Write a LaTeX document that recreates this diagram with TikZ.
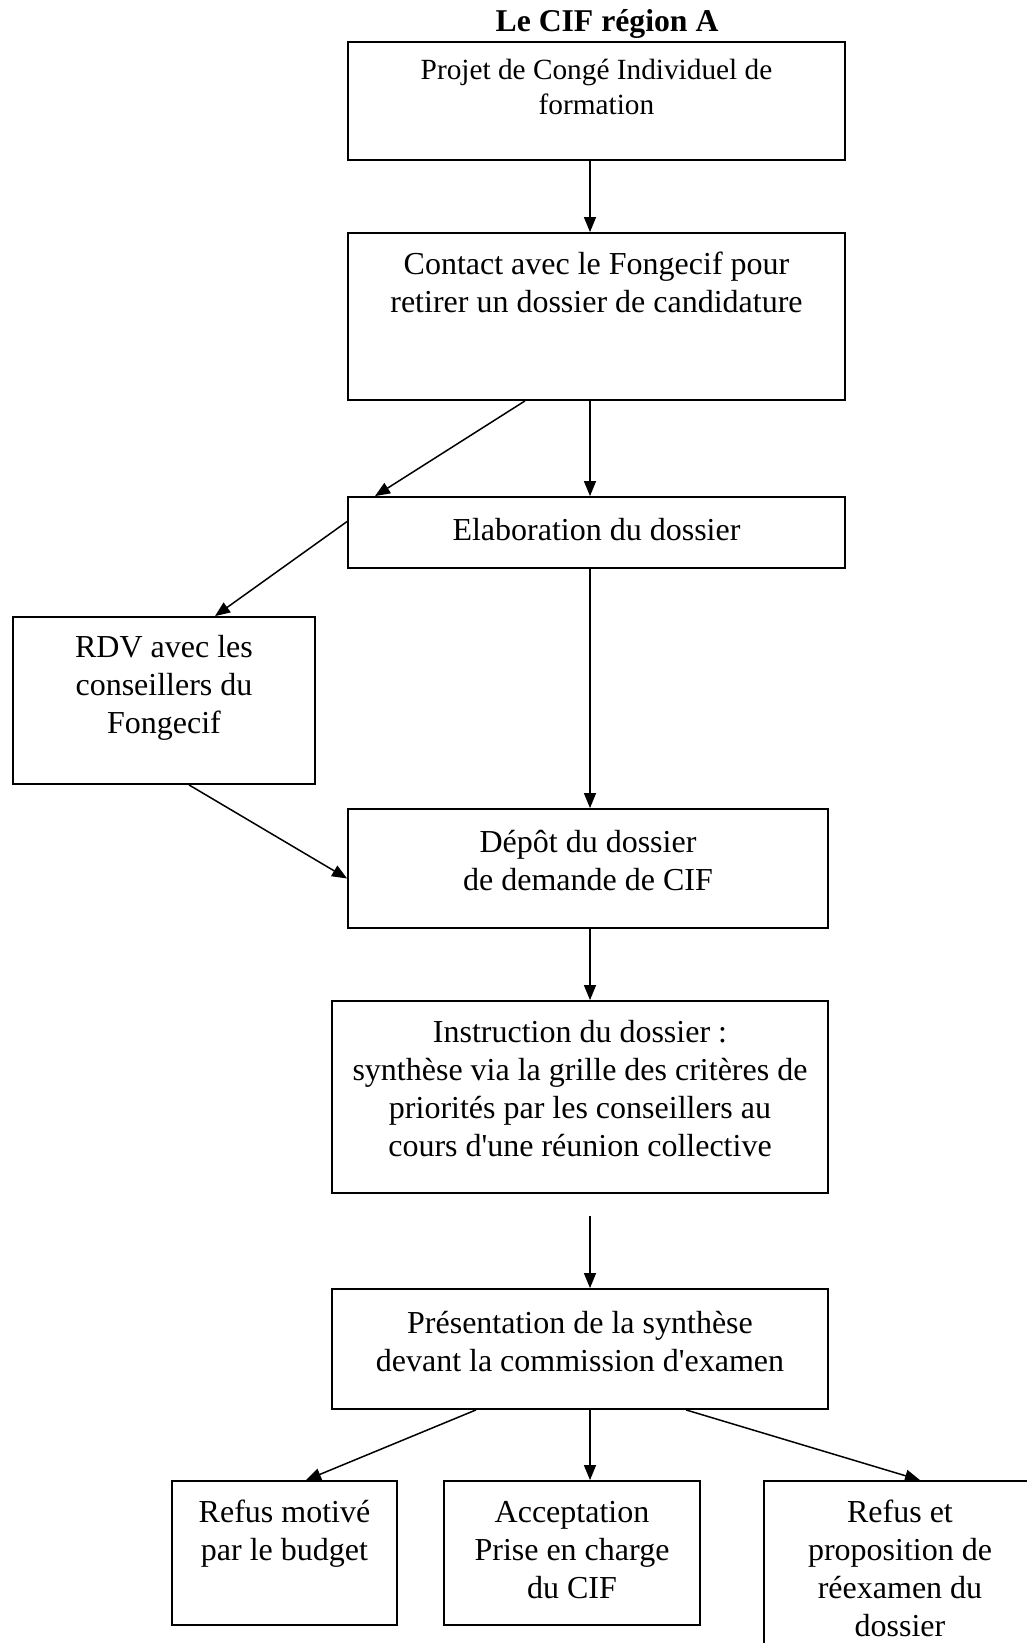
\documentclass[tikz,border=0pt]{standalone}
\usepackage{fontspec}
\setmainfont{Liberation Serif}[Ligatures=TeXOff]
\usetikzlibrary{arrows.meta,calc}
\begin{document}
\begin{tikzpicture}[x=1pt,y=-1pt,
  box/.style={draw,line width=1.8pt,inner sep=0pt,rectangle},
  txt/.style={align=center,anchor=base,inner sep=0pt,font=\fontsize{32}{37.7}\selectfont},
  arr/.style={line width=1.5pt,-{Triangle[length=15pt,width=12pt]}}]
\useasboundingbox (0,0) rectangle (1026,1643);
% boxes
\node[box,minimum width=497pt,minimum height=118pt] (b1) at (596.5,101) {};
\node[box,minimum width=497pt,minimum height=167pt] (b2) at (596.5,316.5) {};
\node[box,minimum width=497pt,minimum height=71pt] (b3) at (596.5,532.5) {};
\node[box,minimum width=302pt,minimum height=167pt] (rdv) at (164,700.5) {};
\node[box,minimum width=480pt,minimum height=119pt] (dep) at (588,868.5) {};
\node[box,minimum width=496pt,minimum height=192pt] (ins) at (580,1097) {};
\node[box,minimum width=496pt,minimum height=120pt] (pre) at (580,1349) {};
\node[box,minimum width=225pt,minimum height=144pt] (r1) at (284.5,1553) {};
\node[box,minimum width=256pt,minimum height=144pt] (acc) at (572,1553) {};
\node[box,minimum width=272pt,minimum height=218pt] (r2) at (900,1590) {};
% texts (anchor base = baseline of the last line)
\node[anchor=base,inner sep=0pt,font=\bfseries\fontsize{31.7}{36}\selectfont] (title) at (607,32) {Le CIF région A};
\node[txt,font=\fontsize{29.3}{35}\selectfont] (t1) at (596.5,114) {Projet de Congé Individuel de\\formation};
\node[txt] (t2) at (596.5,312) {Contact avec le Fongecif pour\\retirer un dossier de candidature};
\node[txt] (t3) at (596.5,540) {Elaboration du dossier};
\node[txt] (t4) at (164,733) {RDV avec les\\conseillers du\\Fongecif};
\node[txt] (t5) at (588,890) {Dépôt du dossier\\de demande de CIF};
\node[txt] (t6) at (580,1156) {Instruction du dossier :\\synthèse via la grille des critères de\\priorités par les conseillers au\\cours d'une réunion collective};
\node[txt] (t7) at (580,1371) {Présentation de la synthèse\\devant la commission d'examen};
\node[txt] (t8) at (284.5,1560) {Refus motivé\\par le budget};
\node[txt] (t9) at (572,1598) {Acceptation\\Prise en charge\\du CIF};
\node[txt] (t10) at (900,1636) {Refus et\\proposition de\\réexamen du\\dossier};
% helper coordinates
\coordinate (c590) at (590,0);
\coordinate (c525) at (525,0);
\coordinate (c375) at (375,0);
\coordinate (c215) at (215,0);
\coordinate (c189) at (189,0);
\coordinate (c476) at (476,0);
\coordinate (c306) at (306,0);
\coordinate (c686) at (686,0);
\coordinate (c920) at (920,0);
\coordinate (free) at (590,1216);
% connectors
\draw[arr] (b1.south -| c590) -- (b2.north -| c590);
\draw[arr] (b2.south -| c590) -- (b3.north -| c590);
\draw[arr] (b2.south -| c525) -- (b3.north -| c375);
\draw[arr] ($(b3.west)+(0,-11)$) -- (rdv.north -| c215);
\draw[arr] (b3.south -| c590) -- (dep.north -| c590);
\draw[arr] (rdv.south -| c189) -- ($(dep.west)+(0,10)$);
\draw[arr] (dep.south -| c590) -- (ins.north -| c590);
\draw[arr] (free) -- (pre.north -| c590);
\draw[arr] (pre.south -| c476) -- (r1.north -| c306);
\draw[arr] (pre.south -| c590) -- (acc.north -| c590);
\draw[arr] (pre.south -| c686) -- (r2.north -| c920);
\end{tikzpicture}
\end{document}
